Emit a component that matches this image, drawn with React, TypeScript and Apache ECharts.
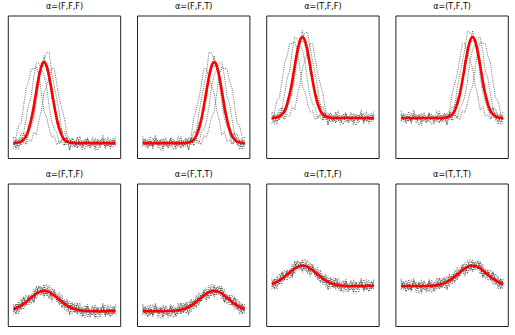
import { useEffect, useRef } from "react";
import * as echarts from "echarts";

// shared x grid (0..1)
const xs = [0, 0.025, 0.05, 0.075, 0.1, 0.125, 0.15, 0.175, 0.2, 0.225, 0.25, 0.275, 0.3, 0.325, 0.35, 0.375, 0.4, 0.425, 0.45, 0.475, 0.5, 0.525, 0.55, 0.575, 0.6, 0.625, 0.65, 0.675, 0.7, 0.725, 0.75, 0.775, 0.8, 0.825, 0.85, 0.875, 0.9, 0.925, 0.95, 0.975, 1];

const labels = ["α=(F,F,F)", "α=(F,F,T)", "α=(T,F,F)", "α=(T,F,T)", "α=(F,T,F)", "α=(F,T,T)", "α=(T,T,F)", "α=(T,T,T)"];

// red mean curves
const redFFF = [0.001, 0.003, 0.008, 0.019, 0.044, 0.091, 0.172, 0.295, 0.458, 0.644, 0.823, 0.952, 1, 0.952, 0.823, 0.644, 0.458, 0.295, 0.172, 0.091, 0.044, 0.019, 0.008, 0.003, 0.001, 0, 0, 0, 0, 0, 0, 0, 0, 0, 0, 0, 0, 0, 0, 0, 0];
const redFFT = [0, 0, 0, 0, 0, 0, 0, 0, 0, 0, 0, 0, 0, 0, 0, 0, 0.001, 0.003, 0.008, 0.019, 0.044, 0.091, 0.172, 0.295, 0.458, 0.644, 0.823, 0.952, 1, 0.952, 0.823, 0.644, 0.458, 0.295, 0.172, 0.091, 0.044, 0.019, 0.008, 0.003, 0.001];
const redTFF = [0.311, 0.313, 0.318, 0.329, 0.354, 0.401, 0.482, 0.605, 0.768, 0.954, 1.133, 1.262, 1.31, 1.262, 1.133, 0.954, 0.768, 0.605, 0.482, 0.401, 0.354, 0.329, 0.318, 0.313, 0.311, 0.31, 0.31, 0.31, 0.31, 0.31, 0.31, 0.31, 0.31, 0.31, 0.31, 0.31, 0.31, 0.31, 0.31, 0.31, 0.31];
const redTFT = [0.31, 0.31, 0.31, 0.31, 0.31, 0.31, 0.31, 0.31, 0.31, 0.31, 0.31, 0.31, 0.31, 0.31, 0.31, 0.31, 0.311, 0.313, 0.318, 0.329, 0.354, 0.401, 0.482, 0.605, 0.768, 0.954, 1.133, 1.262, 1.31, 1.262, 1.133, 0.954, 0.768, 0.605, 0.482, 0.401, 0.354, 0.329, 0.318, 0.313, 0.311];
const redFTF = [0.025, 0.036, 0.051, 0.069, 0.09, 0.115, 0.141, 0.168, 0.194, 0.217, 0.235, 0.246, 0.25, 0.246, 0.235, 0.217, 0.194, 0.168, 0.141, 0.115, 0.09, 0.069, 0.051, 0.036, 0.025, 0.017, 0.011, 0.007, 0.004, 0.003, 0.001, 0.001, 0, 0, 0, 0, 0, 0, 0, 0, 0];
const redFTT = [0, 0, 0, 0, 0, 0, 0, 0, 0, 0.001, 0.001, 0.003, 0.004, 0.007, 0.011, 0.017, 0.025, 0.036, 0.051, 0.069, 0.09, 0.115, 0.141, 0.168, 0.194, 0.217, 0.235, 0.246, 0.25, 0.246, 0.235, 0.217, 0.194, 0.168, 0.141, 0.115, 0.09, 0.069, 0.051, 0.036, 0.025];
const redTTF = [0.335, 0.346, 0.361, 0.379, 0.4, 0.425, 0.451, 0.478, 0.504, 0.527, 0.545, 0.556, 0.56, 0.556, 0.545, 0.527, 0.504, 0.478, 0.451, 0.425, 0.4, 0.379, 0.361, 0.346, 0.335, 0.327, 0.321, 0.317, 0.314, 0.313, 0.311, 0.311, 0.31, 0.31, 0.31, 0.31, 0.31, 0.31, 0.31, 0.31, 0.31];
const redTTT = [0.31, 0.31, 0.31, 0.31, 0.31, 0.31, 0.31, 0.31, 0.31, 0.311, 0.311, 0.313, 0.314, 0.317, 0.321, 0.327, 0.335, 0.346, 0.361, 0.379, 0.4, 0.425, 0.451, 0.478, 0.504, 0.527, 0.545, 0.556, 0.56, 0.556, 0.545, 0.527, 0.504, 0.478, 0.451, 0.425, 0.4, 0.379, 0.361, 0.346, 0.335];

// dotted sample curves, per panel
const samplesFFF = [
  [0.07, 0.07, 0.21, 0.25, 0.46, 0.68, 0.77, 0.92, 0.92, 0.94, 0.84, 0.61, 0.39, 0.32, 0.18, 0.07, 0.09, -0.02, 0.03, 0, -0.03, 0.06, -0.01, -0.05, 0.03, 0.02, -0.04, 0.01, 0.05, -0.02, -0.06, 0, 0.04, -0.03, 0.01, -0.01, 0.06, -0.04, 0.02, -0.02, 0.03],
  [-0.02, 0.06, 0.03, 0.11, 0.12, 0.30, 0.49, 0.58, 0.83, 1.00, 0.98, 0.91, 0.84, 0.70, 0.45, 0.27, 0.17, 0.13, -0.01, 0.05, 0.02, -0.02, 0.05, -0.01, -0.04, 0.06, 0, -0.03, 0.02, -0.05, 0.01, 0.04, -0.02, 0.03, -0.06, 0.02, 0, -0.04, 0.05, -0.01, -0.03],
  [0.01, -0.05, 0.02, 0.07, 0, 0, 0.14, 0.20, 0.31, 0.51, 0.77, 0.95, 1.02, 1.12, 1.12, 0.87, 0.70, 0.54, 0.37, 0.13, 0.14, 0.03, 0.02, 0.06, -0.03, -0.02, 0.03, -0.05, 0.01, 0.04, -0.01, -0.04, 0.06, 0, -0.02, 0.05, -0.03, 0.01, -0.05, 0.04, 0],
  [-0.01, 0.03, -0.04, 0, 0.05, -0.02, 0.04, 0.02, 0.14, 0.10, 0.28, 0.41, 0.62, 0.71, 0.81, 0.92, 0.92, 0.73, 0.54, 0.42, 0.30, 0.09, 0.06, -0.01, 0.02, -0.06, -0.01, 0.03, -0.02, 0.06, -0.03, 0.01, -0.05, 0.02, 0.04, -0.01, -0.04, 0.03, 0, -0.02, 0.05],
  [0.06, -0.08, 0.04, -0.03, 0.13, 0.07, 0.10, 0.34, 0.37, 0.65, 0.89, 0.91, 1.08, 0.89, 0.84, 0.54, 0.51, 0.27, 0.26, 0.02, 0.04, 0.08, -0.08, 0.03, -0.05, 0.08, -0.02, -0.08, 0.04, 0.07, -0.06, 0.01, -0.09, 0.05, -0.03, 0.10, -0.05, 0.02, -0.07, 0.06, -0.04],
  [-0.07, 0.05, -0.08, 0.04, 0.12, 0.05, 0.23, 0.29, 0.38, 0.73, 0.79, 1.00, 0.94, 0.96, 0.73, 0.71, 0.49, 0.25, 0.15, 0.17, -0.03, 0.06, -0.09, 0.06, 0.02, -0.06, 0.09, -0.03, -0.08, 0.05, -0.01, 0.07, -0.04, -0.09, 0.03, 0.06, -0.07, 0.08, -0.02, -0.05, 0.09],
];
const samplesFFT = [
  [0.03, -0.02, 0.02, -0.04, 0.06, -0.01, 0.01, -0.03, 0.04, 0, -0.06, -0.02, 0.05, 0.01, -0.04, 0.02, 0.03, -0.05, -0.01, 0.06, -0.03, 0, 0.03, -0.02, 0.09, 0.07, 0.18, 0.32, 0.39, 0.61, 0.84, 0.94, 0.92, 0.92, 0.77, 0.68, 0.46, 0.25, 0.21, 0.07, 0.07],
  [-0.03, -0.01, 0.05, -0.04, 0, 0.02, -0.06, 0.03, -0.02, 0.04, 0.01, -0.05, 0.02, -0.03, 0, 0.06, -0.04, -0.01, 0.05, -0.02, 0.02, 0.05, -0.01, 0.13, 0.17, 0.27, 0.45, 0.70, 0.84, 0.91, 0.98, 1.00, 0.83, 0.58, 0.49, 0.30, 0.12, 0.11, 0.03, 0.06, -0.02],
  [0, 0.04, -0.05, 0.01, -0.03, 0.05, -0.02, 0, 0.06, -0.04, -0.01, 0.04, 0.01, -0.05, 0.03, -0.02, -0.03, 0.06, 0.02, 0.03, 0.14, 0.13, 0.37, 0.54, 0.70, 0.87, 1.12, 1.12, 1.02, 0.95, 0.77, 0.51, 0.31, 0.20, 0.14, 0, 0, 0.07, 0.02, -0.05, 0.01],
  [0.05, -0.02, 0, 0.03, -0.04, -0.01, 0.04, 0.02, -0.05, 0.01, -0.03, 0.06, -0.02, 0.03, -0.01, -0.06, 0.02, -0.01, 0.06, 0.09, 0.30, 0.42, 0.54, 0.73, 0.92, 0.92, 0.81, 0.71, 0.62, 0.41, 0.28, 0.10, 0.14, 0.02, 0.04, -0.02, 0.05, 0, -0.04, 0.03, -0.01],
  [-0.04, 0.06, -0.07, 0.02, -0.05, 0.10, -0.03, 0.05, -0.09, 0.01, -0.06, 0.07, 0.04, -0.08, -0.02, 0.08, -0.05, 0.03, -0.08, 0.08, 0.04, 0.02, 0.26, 0.27, 0.51, 0.54, 0.84, 0.89, 1.08, 0.91, 0.89, 0.65, 0.37, 0.34, 0.10, 0.07, 0.13, -0.03, 0.04, -0.08, 0.06],
  [0.09, -0.05, -0.02, 0.08, -0.07, 0.06, 0.03, -0.09, -0.04, 0.07, -0.01, 0.05, -0.08, -0.03, 0.09, -0.06, 0.02, 0.06, -0.09, 0.06, -0.03, 0.17, 0.15, 0.25, 0.49, 0.71, 0.73, 0.96, 0.94, 1.00, 0.79, 0.73, 0.38, 0.29, 0.23, 0.05, 0.12, 0.04, -0.08, 0.05, -0.07],
];
const samplesTFF = [
  [0.38, 0.38, 0.52, 0.56, 0.77, 0.99, 1.08, 1.23, 1.23, 1.25, 1.15, 0.92, 0.70, 0.63, 0.49, 0.38, 0.40, 0.29, 0.34, 0.31, 0.28, 0.37, 0.30, 0.26, 0.34, 0.33, 0.27, 0.32, 0.36, 0.29, 0.25, 0.31, 0.35, 0.28, 0.32, 0.30, 0.37, 0.27, 0.33, 0.29, 0.34],
  [0.29, 0.37, 0.34, 0.42, 0.43, 0.61, 0.80, 0.89, 1.14, 1.31, 1.29, 1.22, 1.15, 1.01, 0.76, 0.58, 0.48, 0.44, 0.30, 0.36, 0.33, 0.29, 0.36, 0.30, 0.27, 0.37, 0.31, 0.28, 0.33, 0.26, 0.32, 0.35, 0.29, 0.34, 0.25, 0.33, 0.31, 0.27, 0.36, 0.30, 0.28],
  [0.32, 0.26, 0.33, 0.38, 0.31, 0.31, 0.45, 0.51, 0.62, 0.82, 1.08, 1.22, 1.30, 1.36, 1.37, 1.18, 1.01, 0.85, 0.68, 0.44, 0.45, 0.34, 0.33, 0.37, 0.28, 0.29, 0.34, 0.26, 0.32, 0.35, 0.30, 0.27, 0.37, 0.31, 0.29, 0.36, 0.28, 0.32, 0.26, 0.35, 0.31],
  [0.30, 0.34, 0.27, 0.31, 0.36, 0.29, 0.35, 0.33, 0.45, 0.41, 0.59, 0.72, 0.93, 1.02, 1.12, 1.23, 1.23, 1.04, 0.85, 0.73, 0.61, 0.40, 0.37, 0.30, 0.33, 0.25, 0.30, 0.34, 0.29, 0.37, 0.28, 0.32, 0.26, 0.33, 0.35, 0.30, 0.27, 0.34, 0.31, 0.29, 0.36],
  [0.37, 0.23, 0.35, 0.28, 0.44, 0.38, 0.41, 0.65, 0.68, 0.96, 1.20, 1.22, 1.39, 1.20, 1.15, 0.85, 0.82, 0.58, 0.57, 0.33, 0.35, 0.39, 0.23, 0.34, 0.26, 0.39, 0.29, 0.23, 0.35, 0.38, 0.25, 0.32, 0.22, 0.36, 0.28, 0.41, 0.26, 0.33, 0.24, 0.37, 0.27],
  [0.24, 0.36, 0.23, 0.35, 0.43, 0.36, 0.54, 0.60, 0.69, 1.04, 1.10, 1.31, 1.25, 1.27, 1.04, 1.02, 0.80, 0.56, 0.46, 0.48, 0.28, 0.37, 0.22, 0.37, 0.33, 0.25, 0.40, 0.28, 0.23, 0.36, 0.30, 0.38, 0.27, 0.22, 0.34, 0.37, 0.24, 0.39, 0.29, 0.26, 0.40],
];
const samplesTFT = [
  [0.34, 0.29, 0.33, 0.27, 0.37, 0.30, 0.32, 0.28, 0.35, 0.31, 0.25, 0.29, 0.36, 0.32, 0.27, 0.33, 0.34, 0.26, 0.30, 0.37, 0.28, 0.31, 0.34, 0.29, 0.40, 0.38, 0.49, 0.63, 0.70, 0.92, 1.15, 1.25, 1.23, 1.23, 1.08, 0.99, 0.77, 0.56, 0.52, 0.38, 0.38],
  [0.28, 0.30, 0.36, 0.27, 0.31, 0.33, 0.25, 0.34, 0.29, 0.35, 0.32, 0.26, 0.33, 0.28, 0.31, 0.37, 0.27, 0.30, 0.36, 0.29, 0.33, 0.36, 0.30, 0.44, 0.48, 0.58, 0.76, 1.01, 1.15, 1.22, 1.29, 1.31, 1.14, 0.89, 0.80, 0.61, 0.43, 0.42, 0.34, 0.37, 0.29],
  [0.31, 0.35, 0.26, 0.32, 0.28, 0.36, 0.29, 0.31, 0.37, 0.27, 0.30, 0.35, 0.32, 0.26, 0.34, 0.29, 0.28, 0.37, 0.33, 0.34, 0.45, 0.44, 0.68, 0.85, 1.01, 1.16, 1.38, 1.37, 1.30, 1.24, 1.08, 0.82, 0.62, 0.51, 0.45, 0.31, 0.31, 0.38, 0.33, 0.26, 0.32],
  [0.36, 0.29, 0.31, 0.34, 0.27, 0.30, 0.35, 0.33, 0.26, 0.32, 0.28, 0.37, 0.29, 0.34, 0.30, 0.25, 0.33, 0.30, 0.37, 0.40, 0.61, 0.73, 0.85, 1.04, 1.23, 1.23, 1.12, 1.02, 0.93, 0.72, 0.59, 0.41, 0.45, 0.33, 0.35, 0.29, 0.36, 0.31, 0.27, 0.34, 0.30],
  [0.27, 0.37, 0.24, 0.33, 0.26, 0.41, 0.28, 0.36, 0.22, 0.32, 0.25, 0.38, 0.35, 0.23, 0.29, 0.39, 0.26, 0.34, 0.23, 0.39, 0.35, 0.33, 0.57, 0.58, 0.82, 0.85, 1.15, 1.20, 1.39, 1.22, 1.20, 0.96, 0.68, 0.65, 0.41, 0.38, 0.44, 0.28, 0.35, 0.23, 0.37],
  [0.40, 0.26, 0.29, 0.39, 0.24, 0.37, 0.34, 0.22, 0.27, 0.38, 0.30, 0.36, 0.23, 0.28, 0.40, 0.25, 0.33, 0.37, 0.22, 0.37, 0.28, 0.48, 0.46, 0.56, 0.80, 1.02, 1.04, 1.27, 1.25, 1.31, 1.10, 1.04, 0.69, 0.60, 0.54, 0.36, 0.43, 0.35, 0.23, 0.36, 0.24],
];
const samplesFTF = [
  [0.07, 0.01, 0.12, 0.02, 0.10, 0.20, 0.10, 0.17, 0.12, 0.25, 0.29, 0.24, 0.17, 0.29, 0.25, 0.19, 0.26, 0.12, 0.17, 0.12, 0.05, 0.15, 0.04, -0.03, 0.07, 0.05, -0.04, 0.02, 0.07, -0.03, -0.08, 0, 0.05, -0.04, 0.01, -0.01, 0.08, -0.05, 0.03, -0.03, 0.04],
  [-0.01, 0.09, 0.04, 0.10, 0.02, 0.12, 0.18, 0.09, 0.20, 0.29, 0.21, 0.20, 0.28, 0.33, 0.23, 0.18, 0.19, 0.22, 0.07, 0.16, 0.10, 0.04, 0.12, 0.03, -0.02, 0.10, 0.01, -0.03, 0.03, -0.07, 0.01, 0.05, -0.03, 0.04, -0.08, 0.03, 0, -0.05, 0.07, -0.01, -0.04],
  [0.04, -0.03, 0.08, 0.15, 0.06, 0.07, 0.19, 0.18, 0.15, 0.21, 0.31, 0.29, 0.20, 0.25, 0.32, 0.15, 0.16, 0.20, 0.18, 0.04, 0.14, 0.06, 0.05, 0.11, -0.01, -0.01, 0.05, -0.06, 0.01, 0.05, -0.01, -0.05, 0.08, 0, -0.03, 0.07, -0.04, 0.01, -0.07, 0.05, 0],
  [0.02, 0.08, 0, 0.07, 0.16, 0.08, 0.17, 0.14, 0.27, 0.15, 0.25, 0.25, 0.30, 0.21, 0.17, 0.25, 0.27, 0.16, 0.09, 0.13, 0.13, -0.01, 0.08, 0.04, 0.10, -0.03, 0, 0.05, -0.03, 0.08, -0.04, 0.01, -0.07, 0.03, 0.05, -0.01, -0.05, 0.04, 0, -0.03, 0.07],
  [0.09, -0.04, 0.08, 0.02, 0.18, 0.10, 0.07, 0.21, 0.10, 0.23, 0.31, 0.21, 0.33, 0.19, 0.26, 0.12, 0.24, 0.14, 0.23, 0.05, 0.09, 0.13, -0.04, 0.07, -0.02, 0.10, -0.01, -0.07, 0.04, 0.07, -0.06, 0.01, -0.09, 0.05, -0.03, 0.10, -0.05, 0.02, -0.07, 0.06, -0.04],
  [-0.04, 0.09, -0.04, 0.09, 0.17, 0.08, 0.20, 0.16, 0.11, 0.31, 0.21, 0.30, 0.19, 0.26, 0.15, 0.29, 0.22, 0.12, 0.12, 0.20, 0.02, 0.11, -0.05, 0.10, 0.05, -0.04, 0.10, -0.02, -0.08, 0.05, -0.01, 0.07, -0.04, -0.09, 0.03, 0.06, -0.07, 0.08, -0.02, -0.05, 0.09],
];
const samplesFTT = [
  [0.04, -0.03, 0.03, -0.05, 0.08, -0.01, 0.01, -0.04, 0.05, 0, -0.08, -0.03, 0.07, 0.02, -0.04, 0.05, 0.07, -0.03, 0.04, 0.15, 0.05, 0.12, 0.17, 0.12, 0.26, 0.19, 0.25, 0.29, 0.17, 0.24, 0.29, 0.25, 0.12, 0.17, 0.10, 0.20, 0.10, 0.02, 0.12, 0.01, 0.07],
  [-0.04, -0.01, 0.07, -0.05, 0, 0.03, -0.08, 0.04, -0.03, 0.05, 0.01, -0.07, 0.03, -0.03, 0.01, 0.10, -0.02, 0.03, 0.12, 0.04, 0.10, 0.16, 0.07, 0.22, 0.19, 0.18, 0.23, 0.33, 0.28, 0.20, 0.21, 0.29, 0.20, 0.09, 0.18, 0.12, 0.02, 0.10, 0.04, 0.09, -0.01],
  [0, 0.05, -0.07, 0.01, -0.04, 0.07, -0.03, 0, 0.08, -0.05, -0.01, 0.05, 0.01, -0.06, 0.05, -0.01, -0.01, 0.11, 0.05, 0.06, 0.14, 0.04, 0.18, 0.20, 0.16, 0.15, 0.32, 0.25, 0.20, 0.29, 0.31, 0.21, 0.15, 0.18, 0.19, 0.07, 0.06, 0.15, 0.08, -0.03, 0.04],
  [0.07, -0.03, 0, 0.04, -0.05, -0.01, 0.05, 0.03, -0.07, 0.01, -0.04, 0.08, -0.03, 0.05, 0, -0.03, 0.10, 0.04, 0.08, -0.01, 0.13, 0.13, 0.09, 0.16, 0.27, 0.25, 0.17, 0.21, 0.30, 0.25, 0.25, 0.15, 0.27, 0.14, 0.17, 0.08, 0.16, 0.07, 0, 0.08, 0.02],
  [-0.04, 0.06, -0.07, 0.02, -0.05, 0.10, -0.03, 0.05, -0.09, 0.01, -0.06, 0.07, 0.04, -0.07, -0.01, 0.10, -0.02, 0.07, -0.04, 0.13, 0.09, 0.05, 0.23, 0.14, 0.24, 0.12, 0.26, 0.19, 0.33, 0.21, 0.31, 0.23, 0.10, 0.21, 0.07, 0.10, 0.18, 0.02, 0.08, -0.04, 0.09],
  [0.09, -0.05, -0.02, 0.08, -0.07, 0.06, 0.03, -0.09, -0.04, 0.07, -0.01, 0.05, -0.08, -0.02, 0.10, -0.04, 0.05, 0.10, -0.05, 0.11, 0.02, 0.20, 0.12, 0.12, 0.22, 0.29, 0.15, 0.26, 0.19, 0.30, 0.21, 0.31, 0.11, 0.16, 0.20, 0.08, 0.17, 0.09, -0.04, 0.09, -0.04],
];
const samplesTTF = [
  [0.38, 0.32, 0.43, 0.33, 0.41, 0.51, 0.41, 0.48, 0.43, 0.56, 0.60, 0.55, 0.48, 0.60, 0.56, 0.50, 0.57, 0.43, 0.48, 0.43, 0.36, 0.46, 0.35, 0.28, 0.38, 0.36, 0.27, 0.33, 0.38, 0.28, 0.23, 0.31, 0.36, 0.27, 0.32, 0.30, 0.39, 0.26, 0.34, 0.28, 0.35],
  [0.30, 0.40, 0.35, 0.41, 0.33, 0.43, 0.49, 0.40, 0.51, 0.60, 0.52, 0.51, 0.59, 0.64, 0.54, 0.49, 0.50, 0.53, 0.38, 0.47, 0.41, 0.35, 0.43, 0.34, 0.29, 0.41, 0.32, 0.28, 0.34, 0.24, 0.32, 0.36, 0.28, 0.35, 0.23, 0.34, 0.31, 0.26, 0.38, 0.30, 0.27],
  [0.35, 0.28, 0.39, 0.46, 0.37, 0.38, 0.50, 0.49, 0.46, 0.52, 0.62, 0.60, 0.51, 0.56, 0.63, 0.46, 0.47, 0.51, 0.49, 0.35, 0.45, 0.37, 0.36, 0.42, 0.30, 0.30, 0.36, 0.25, 0.32, 0.36, 0.30, 0.26, 0.39, 0.31, 0.28, 0.38, 0.27, 0.32, 0.24, 0.36, 0.31],
  [0.33, 0.39, 0.31, 0.38, 0.47, 0.39, 0.48, 0.45, 0.58, 0.46, 0.56, 0.56, 0.61, 0.52, 0.48, 0.56, 0.58, 0.47, 0.40, 0.44, 0.44, 0.30, 0.39, 0.35, 0.41, 0.28, 0.31, 0.36, 0.28, 0.39, 0.27, 0.32, 0.24, 0.34, 0.36, 0.30, 0.26, 0.35, 0.31, 0.28, 0.38],
  [0.40, 0.27, 0.39, 0.33, 0.49, 0.41, 0.38, 0.52, 0.41, 0.54, 0.62, 0.52, 0.64, 0.50, 0.57, 0.43, 0.55, 0.45, 0.54, 0.36, 0.40, 0.44, 0.27, 0.38, 0.29, 0.41, 0.30, 0.24, 0.35, 0.38, 0.25, 0.32, 0.22, 0.36, 0.28, 0.41, 0.26, 0.33, 0.24, 0.37, 0.27],
  [0.27, 0.40, 0.27, 0.40, 0.48, 0.39, 0.51, 0.47, 0.42, 0.62, 0.52, 0.61, 0.50, 0.57, 0.46, 0.60, 0.53, 0.43, 0.43, 0.51, 0.33, 0.42, 0.26, 0.41, 0.36, 0.27, 0.41, 0.29, 0.23, 0.36, 0.30, 0.38, 0.27, 0.22, 0.34, 0.37, 0.24, 0.39, 0.29, 0.26, 0.40],
];
const samplesTTT = [
  [0.35, 0.28, 0.34, 0.26, 0.39, 0.30, 0.32, 0.27, 0.36, 0.31, 0.23, 0.28, 0.38, 0.33, 0.27, 0.36, 0.38, 0.28, 0.35, 0.46, 0.36, 0.43, 0.48, 0.43, 0.57, 0.50, 0.56, 0.60, 0.48, 0.55, 0.60, 0.56, 0.43, 0.48, 0.41, 0.51, 0.41, 0.33, 0.43, 0.32, 0.38],
  [0.27, 0.30, 0.38, 0.26, 0.31, 0.34, 0.23, 0.35, 0.28, 0.36, 0.32, 0.24, 0.34, 0.28, 0.32, 0.41, 0.29, 0.34, 0.43, 0.35, 0.41, 0.47, 0.38, 0.53, 0.50, 0.49, 0.54, 0.64, 0.59, 0.51, 0.52, 0.60, 0.51, 0.40, 0.49, 0.43, 0.33, 0.41, 0.35, 0.40, 0.30],
  [0.31, 0.36, 0.24, 0.32, 0.27, 0.38, 0.28, 0.31, 0.39, 0.26, 0.30, 0.36, 0.32, 0.25, 0.36, 0.30, 0.30, 0.42, 0.36, 0.37, 0.45, 0.35, 0.49, 0.51, 0.47, 0.46, 0.63, 0.56, 0.51, 0.60, 0.62, 0.52, 0.46, 0.49, 0.50, 0.38, 0.37, 0.46, 0.39, 0.28, 0.35],
  [0.38, 0.28, 0.31, 0.35, 0.26, 0.30, 0.36, 0.34, 0.24, 0.32, 0.27, 0.39, 0.28, 0.36, 0.31, 0.28, 0.41, 0.35, 0.39, 0.30, 0.44, 0.44, 0.40, 0.47, 0.58, 0.56, 0.48, 0.52, 0.61, 0.56, 0.56, 0.46, 0.58, 0.45, 0.48, 0.39, 0.47, 0.38, 0.31, 0.39, 0.33],
  [0.27, 0.37, 0.24, 0.33, 0.26, 0.41, 0.28, 0.36, 0.22, 0.32, 0.25, 0.38, 0.35, 0.24, 0.30, 0.41, 0.29, 0.38, 0.27, 0.44, 0.40, 0.36, 0.54, 0.45, 0.55, 0.43, 0.57, 0.50, 0.64, 0.52, 0.62, 0.54, 0.41, 0.52, 0.38, 0.41, 0.49, 0.33, 0.39, 0.27, 0.40],
  [0.40, 0.26, 0.29, 0.39, 0.24, 0.37, 0.34, 0.22, 0.27, 0.38, 0.30, 0.36, 0.23, 0.29, 0.41, 0.27, 0.36, 0.41, 0.26, 0.42, 0.33, 0.51, 0.43, 0.43, 0.53, 0.60, 0.46, 0.57, 0.50, 0.61, 0.52, 0.62, 0.42, 0.47, 0.51, 0.39, 0.48, 0.40, 0.27, 0.40, 0.27],
];

const reds = [redFFF, redFFT, redTFF, redTFT, redFTF, redFTT, redTTF, redTTT];
const samples = [samplesFFF, samplesFFT, samplesTFF, samplesTFT, samplesFTF, samplesFTT, samplesTTF, samplesTTT];

export default function App() {
  const ref = useRef<HTMLDivElement>(null);
  useEffect(() => {
    if (!ref.current) return;
    const chart = echarts.init(ref.current, null, { renderer: "svg" });
    const grid: any[] = [];
    const xAxis: any[] = [];
    const yAxis: any[] = [];
    const series: any[] = [];
    const graphic: any[] = [];
    const lefts = [8.3, 137.5, 266.7, 395.9];
    const tops = [16, 184];
    const W = 112.4;
    const H = 142.5;
    labels.forEach((label, i) => {
      const left = lefts[i % 4];
      const top = tops[Math.floor(i / 4)];
      grid.push({ left, top, width: W, height: H, show: true, borderColor: "#222", borderWidth: 1, backgroundColor: "transparent" });
      xAxis.push({ gridIndex: i, type: "value", min: -0.05, max: 1.05, show: false });
      yAxis.push({ gridIndex: i, type: "value", min: -0.19, max: 1.57, show: false });
      samples[i].forEach((s) => {
        series.push({
          type: "line",
          xAxisIndex: i,
          yAxisIndex: i,
          data: xs.map((x, j) => [x, s[j]]),
          symbol: "none",
          silent: true,
          lineStyle: { color: "#2a2a2a", width: 0.75, type: [0.9, 1.3] },
          z: 2,
        });
      });
      series.push({
        type: "line",
        xAxisIndex: i,
        yAxisIndex: i,
        data: xs.map((x, j) => [x, reds[i][j]]),
        symbol: "none",
        silent: true,
        smooth: 0.3,
        lineStyle: { color: "#ff0000", width: 2.6 },
        z: 3,
      });
      graphic.push({
        type: "text",
        x: left + W / 2,
        y: top - 9.5,
        style: { text: label, fill: "#000", font: '8px "DejaVu Sans"', align: "center", verticalAlign: "middle" },
      });
    });
    chart.setOption({ animation: false, backgroundColor: "#fff", grid, xAxis, yAxis, series, graphic });
    return () => chart.dispose();
  }, []);
  return <div ref={ref} style={{ position: "fixed", left: 0, top: 0, width: 515, height: 335 }} />;
}
